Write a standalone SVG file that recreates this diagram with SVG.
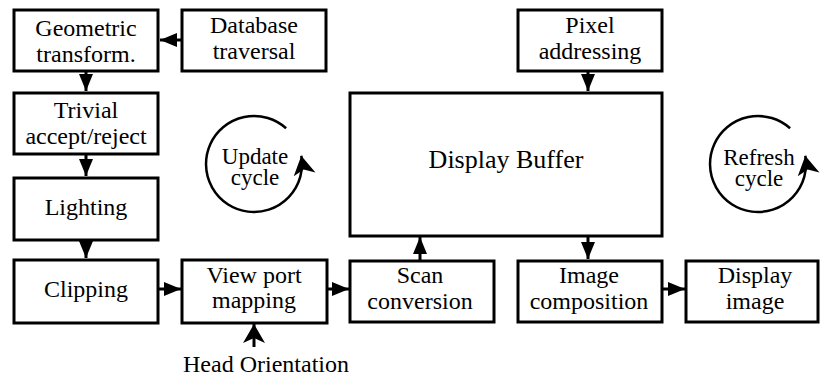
<svg xmlns="http://www.w3.org/2000/svg" width="820" height="376" viewBox="0 0 820 376">
<style>
.box{fill:#fff;stroke:#000;stroke-width:3}
.c{fill:none;stroke:#000;stroke-width:3}
.cyc{fill:none;stroke:#000;stroke-width:2.5}
</style>
<defs>
<marker id="tri" markerUnits="userSpaceOnUse" markerWidth="18" markerHeight="14" refX="17" refY="7" orient="auto" overflow="visible">
<path d="M0,0 L17,7 L0,14 z" fill="#000"/>
</marker>
<marker id="barb" markerUnits="userSpaceOnUse" markerWidth="20" markerHeight="22" refX="19" refY="11" orient="auto" overflow="visible">
<path d="M0,0 L19,11 L0,22 L5,11 z" fill="#000"/>
</marker>
</defs>
<rect width="820" height="376" fill="#fff"/>

<g id="geometric">
<rect class="box" x="14" y="10" width="144" height="61"/>
<text x="86" y="36" font-family="Liberation Serif" font-size="24" text-anchor="middle">Geometric</text>
<text x="86" y="62" font-family="Liberation Serif" font-size="24" text-anchor="middle">transform.</text>
</g>
<g id="database">
<rect class="box" x="182" y="10" width="144" height="61"/>
<text x="254" y="33" font-family="Liberation Serif" font-size="24" text-anchor="middle">Database</text>
<text x="254" y="59" font-family="Liberation Serif" font-size="24" text-anchor="middle">traversal</text>
</g>
<g id="trivial">
<rect class="box" x="14" y="93" width="144" height="61"/>
<text x="86" y="118" font-family="Liberation Serif" font-size="24" text-anchor="middle">Trivial</text>
<text x="86" y="144" font-family="Liberation Serif" font-size="24" text-anchor="middle">accept/reject</text>
</g>
<g id="lighting">
<rect class="box" x="14" y="178" width="144" height="62"/>
<text x="86" y="215" font-family="Liberation Serif" font-size="24" text-anchor="middle">Lighting</text>
</g>
<g id="clipping">
<rect class="box" x="14" y="260" width="144" height="63"/>
<text x="86" y="297" font-family="Liberation Serif" font-size="24" text-anchor="middle">Clipping</text>
</g>
<g id="viewport">
<rect class="box" x="182" y="260" width="145" height="63"/>
<text x="254" y="283" font-family="Liberation Serif" font-size="24" text-anchor="middle">View port</text>
<text x="254" y="308" font-family="Liberation Serif" font-size="24" text-anchor="middle">mapping</text>
</g>
<g id="scan">
<rect class="box" x="350" y="261" width="144" height="61"/>
<text x="420" y="283" font-family="Liberation Serif" font-size="24" text-anchor="middle">Scan</text>
<text x="420" y="309" font-family="Liberation Serif" font-size="24" text-anchor="middle">conversion</text>
</g>
<g id="buffer">
<rect class="box" x="350" y="93" width="312" height="143"/>
<text x="506" y="168" font-family="Liberation Serif" font-size="26" text-anchor="middle">Display Buffer</text>
</g>
<g id="pixel">
<rect class="box" x="518" y="10" width="144" height="61"/>
<text x="590" y="33" font-family="Liberation Serif" font-size="24" text-anchor="middle">Pixel</text>
<text x="590" y="59" font-family="Liberation Serif" font-size="24" text-anchor="middle">addressing</text>
</g>
<g id="image">
<rect class="box" x="518" y="261" width="144" height="61"/>
<text x="589" y="283" font-family="Liberation Serif" font-size="24" text-anchor="middle">Image</text>
<text x="589" y="309" font-family="Liberation Serif" font-size="24" text-anchor="middle">composition</text>
</g>
<g id="display">
<rect class="box" x="686" y="261" width="132" height="61"/>
<text x="755" y="283" font-family="Liberation Serif" font-size="24" text-anchor="middle">Display</text>
<text x="755" y="309" font-family="Liberation Serif" font-size="24" text-anchor="middle">image</text>
</g>
<g id="update">
<path class="cyc" d="M286.1,128.3 A48,48 0 1 0 301.3,155.7" marker-end="url(#barb)"/>
<text x="255" y="164" font-family="Liberation Serif" font-size="23" text-anchor="middle">Update</text>
<text x="255" y="185" font-family="Liberation Serif" font-size="23" text-anchor="middle">cycle</text>
</g>
<g id="refresh">
<path class="cyc" d="M790.1,128.3 A48,48 0 1 0 805.3,155.7" marker-end="url(#barb)"/>
<text x="759" y="165" font-family="Liberation Serif" font-size="23" text-anchor="middle">Refresh</text>
<text x="759" y="186" font-family="Liberation Serif" font-size="23" text-anchor="middle">cycle</text>
</g>
<g id="head">
<text x="266" y="372" font-family="Liberation Serif" font-size="24" text-anchor="middle">Head Orientation</text>
</g>

<g id="connectors">
<line class="c" x1="182" y1="40" x2="160" y2="40" marker-end="url(#tri)"/>
<line class="c" x1="86" y1="71" x2="86" y2="91" marker-end="url(#tri)"/>
<line class="c" x1="86" y1="154" x2="86" y2="176" marker-end="url(#tri)"/>
<line class="c" x1="86" y1="240" x2="86" y2="258" marker-end="url(#tri)"/>
<line class="c" x1="158" y1="289" x2="181" y2="289" marker-end="url(#tri)"/>
<line class="c" x1="327" y1="289" x2="349" y2="289" marker-end="url(#tri)"/>
<line class="c" x1="420" y1="261" x2="420" y2="237" marker-end="url(#tri)"/>
<line class="c" x1="588" y1="236" x2="588" y2="259" marker-end="url(#tri)"/>
<line class="c" x1="662" y1="289" x2="685" y2="289" marker-end="url(#tri)"/>
<line class="c" x1="588" y1="71" x2="588" y2="91" marker-end="url(#tri)"/>
<line class="c" x1="254" y1="347" x2="254" y2="324" marker-end="url(#barb)"/>
</g>
</svg>
